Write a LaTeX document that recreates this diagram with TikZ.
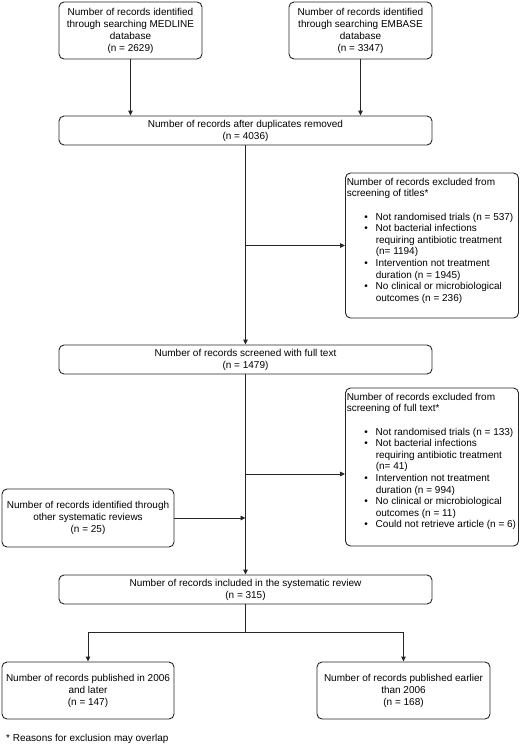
\documentclass[tikz,border=0pt]{standalone}
\usepackage{fontspec}
\setmainfont{Liberation Sans}
\usetikzlibrary{arrows.meta}
\newcommand\bitem{\makebox[29pt][l]{\hspace{17.5pt}\textbullet}}
\newcommand\bcont{\hspace*{29pt}}
\begin{document}
\begin{tikzpicture}[x=1pt,y=-1pt,
  box/.style={draw=black!85, line width=0.9pt, rounded corners=5pt, align=center, inner sep=0pt, font=\fontsize{10}{12}\selectfont},
  extext/.style={anchor=north west, inner sep=0pt, align=left, font=\fontsize{10}{11.6}\selectfont},
  arr/.style={draw=black!85, line width=0.9pt, -{Triangle[length=5pt,width=4.5pt]}},
  ln/.style={draw=black!85, line width=0.9pt}]
\useasboundingbox (0,0) rectangle (520,747);

\node[box, minimum width=143pt, minimum height=57pt] (tl) at (130.5,30.5)
  {Number of records identified\\through searching MEDLINE\\database\\(n = 2629)};
\node[box, minimum width=143pt, minimum height=57pt] (tr) at (360.5,30.5)
  {Number of records identified\\through searching EMBASE\\database\\(n = 3347)};
\node[box, minimum width=373pt, minimum height=29pt] (dup) at (245.5,130.5)
  {Number of records after duplicates removed\\(n = 4036)};

\node[box, minimum width=173pt, minimum height=145pt] (ex1) at (432,245.5) {};
\node[extext] (ex1t) at ([xshift=1.5pt,yshift=-5.3pt]ex1.north west)
  {Number of records excluded from\\screening of titles*\\[11.6pt]
   \bitem Not randomised trials (n = 537)\\
   \bitem Not bacterial infections\\
   \bcont requiring antibiotic treatment\\
   \bcont (n= 1194)\\
   \bitem Intervention not treatment\\
   \bcont duration (n = 1945)\\
   \bitem No clinical or microbiological\\
   \bcont outcomes (n = 236)};

\node[box, minimum width=373pt, minimum height=29pt] (scr) at (245.5,359.5)
  {Number of records screened with full text\\(n = 1479)};

\node[box, minimum width=173pt, minimum height=158pt] (ex2) at (432,467) {};
\node[extext] (ex2t) at ([xshift=1.5pt,yshift=-5.3pt]ex2.north west)
  {Number of records excluded from\\screening of full text*\\[11.6pt]
   \bitem Not randomised trials (n = 133)\\
   \bitem Not bacterial infections\\
   \bcont requiring antibiotic treatment\\
   \bcont (n= 41)\\
   \bitem Intervention not treatment\\
   \bcont duration (n = 994)\\
   \bitem No clinical or microbiological\\
   \bcont outcomes (n = 11)\\
   \bitem Could not retrieve article (n = 6)};

\node[box, minimum width=172pt, minimum height=58pt] (oth) at (88,518)
  {Number of records identified through\\other systematic reviews\\(n = 25)};

\node[box, minimum width=373pt, minimum height=29pt] (inc) at (245.5,589.5)
  {Number of records included in the systematic review\\(n = 315)};

\node[box, minimum width=172pt, minimum height=57pt] (bl) at (88,690.5)
  {Number of records published in 2006\\and later\\(n = 147)};
\node[box, minimum width=173pt, minimum height=57pt] (brx) at (403.5,690.5)
  {Number of records published earlier\\than 2006\\(n = 168)};

\node[anchor=west, inner sep=0pt, font=\fontsize{10}{12}\selectfont] (fn) at (6,739)
  {* Reasons for exclusion may overlap};

% connectors
\draw[arr] (tl.south) -- (tl.south |- dup.north);
\draw[arr] (tr.south) -- (tr.south |- dup.north);
\draw[arr] (dup.south) -- (scr.north);
\draw[arr] (dup.south |- ex1.west) -- (ex1.west);
\draw[arr] (scr.south) -- (inc.north);
\coordinate (j2) at (245.5,474);
\draw[arr] (j2) -- (j2 -| ex2.west);
\draw[arr] (oth.east) -- (oth.east -| scr.south);
\coordinate (bp) at (245.5,632);
\draw[ln] (inc.south) -- (bp);
\draw[arr] (bp) -| (bl.north);
\draw[arr] (bp) -| (brx.north);
\end{tikzpicture}
\end{document}
